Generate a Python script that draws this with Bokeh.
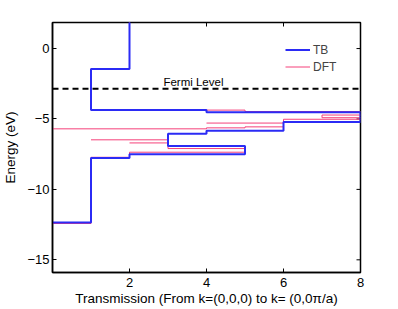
import math
from bokeh.plotting import figure
from bokeh.models import (Range1d, FixedTicker, Legend, LegendItem, Span, Label)
from bokeh.embed import file_html
from bokeh.resources import INLINE

nan = float("nan")

# ---- data (transmission T on x, energy E on y) ----
tb_T = [0, 1, 1, 2, 2, 5, 5, 3, 3, 4, 4, 6, 6, 8, 8, 4, 4, 1, 1, 2, 2]
tb_E = [-12.35, -12.35, -7.77, -7.77, -7.5, -7.5, -6.92, -6.92, -6.05, -6.05,
        -5.83, -5.83, -5.22, -5.22, -4.53, -4.53, -4.37, -4.37, -1.46, -1.46, 2.0]

dft_T = [0, 1, 1, 2, 2, 5, 5, 3, 3, 2, nan,
         1, 3, nan,
         0, 4, 4, 5, 5, 6, 6, 8, nan,
         4, 6, nan,
         8, 7, 7, 8, nan,
         8, 5, 5, 1, 1, 2, 2]
dft_E = [-12.42, -12.42, -7.72, -7.72, -7.36, -7.36, -7.1, -7.1, -6.7, -6.7, nan,
         -6.48, -6.48, nan,
         -5.7, -5.7, -5.63, -5.63, -5.56, -5.56, -5.02, -5.02, nan,
         -5.29, -5.29, nan,
         -4.91, -4.91, -4.72, -4.72, nan,
         -4.47, -4.47, -4.37, -4.37, -1.43, -1.43, 2.0]

fermi_level = -2.85
fermi_label = "Fermi Level"
fermi_label_pos = (2.88, -2.38)

x_ticks = [2, 4, 6, 8]
y_ticks = [0, -5, -10, -15]
y_tick_labels = ["0", "\u22125", "\u221210", "\u221215"]

x_label = "Transmission (From k=(0,0,0) to k= (0,0\u03c0/a)"
y_label = "Energy (eV)"

X_MIN, X_MAX = 0, 8
Y_MIN, Y_MAX = -15.9, 1.85

FONT = "Liberation Sans"
TB_COLOR = "#2b2bf5"
DFT_COLOR = "#f5407a"

p = figure(width=396, height=308, output_backend="svg", toolbar_location=None,
           x_range=Range1d(X_MIN, X_MAX), y_range=Range1d(Y_MIN, Y_MAX),
           min_border_left=52, min_border_top=22, min_border_right=36,
           min_border_bottom=35, background_fill_color="white",
           border_fill_color="white")
p.grid.visible = False
p.outline_line_color = "black"
p.outline_line_width = 1.5

for ax in (p.xaxis[0], p.yaxis[0]):
    ax.axis_line_color = "black"
    ax.axis_line_width = 1.5
    ax.major_tick_in = 4
    ax.major_tick_out = 0
    ax.minor_tick_in = 0
    ax.minor_tick_out = 0
    ax.major_tick_line_color = "black"
    ax.major_tick_line_width = 1
    ax.major_label_text_font = FONT
    ax.major_label_text_font_size = "13px"
    ax.major_label_text_color = "black"
    ax.axis_label_text_font = FONT
    ax.axis_label_text_font_size = "13.5px"
    ax.axis_label_text_font_style = "normal"
    ax.axis_label_text_color = "black"

p.xaxis.ticker = FixedTicker(ticks=x_ticks)
p.yaxis.ticker = FixedTicker(ticks=y_ticks)
p.yaxis.major_label_overrides = {t: l for t, l in zip(y_ticks, y_tick_labels)}
p.xaxis.major_label_standoff = 5
p.yaxis.major_label_standoff = 3
p.xaxis.axis_label = x_label
p.xaxis.axis_label_standoff = 1
p.yaxis.axis_label = y_label
p.yaxis.axis_label_standoff = 6

# mirrored inward ticks on top and right edges
p.scatter(x_ticks, [Y_MAX] * len(x_ticks), marker="dash", size=8,
          angle=math.pi / 2, line_color="black", line_width=1)
p.scatter([X_MAX] * len(y_ticks), y_ticks, marker="dash", size=8,
          line_color="black", line_width=1)

# data lines
r_dft = p.line(dft_T, dft_E, line_color=DFT_COLOR, line_width=1)
r_tb = p.line(tb_T, tb_E, line_color=TB_COLOR, line_width=2)

# Fermi level
p.add_layout(Span(location=fermi_level, dimension="width", line_color="black",
                  line_width=2, line_dash="6 4"))
p.add_layout(Label(x=fermi_label_pos[0], y=fermi_label_pos[1], text=fermi_label,
                   text_font=FONT, text_font_size="11.5px", text_color="black",
                   text_baseline="alphabetic"))

legend = Legend(items=[LegendItem(label="TB", renderers=[r_tb]),
                       LegendItem(label="DFT", renderers=[r_dft])],
                location=(233, 197), glyph_width=25, glyph_height=17,
                label_height=17, label_standoff=3, spacing=0, padding=0,
                margin=0, border_line_color=None, background_fill_alpha=0,
                label_text_font=FONT, label_text_font_size="12px")
p.add_layout(legend)

open("out.html", "w").write(file_html(p, INLINE))
